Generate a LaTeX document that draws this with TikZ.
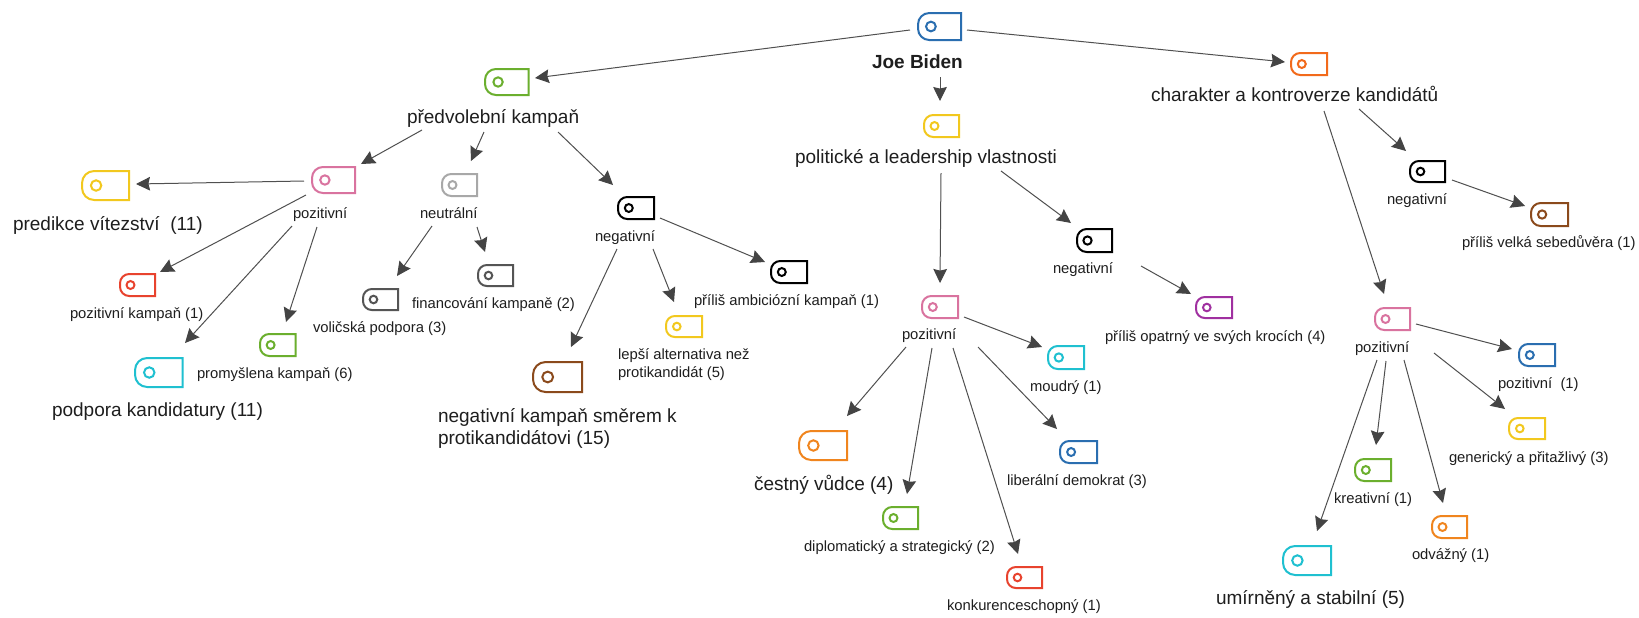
\documentclass[tikz,border=0pt]{standalone}
\usepackage{fontspec}
\setmainfont{Liberation Sans}
\usetikzlibrary{arrows.meta}
\definecolor{cblue}{HTML}{2A6EB0}
\definecolor{cgreen}{HTML}{6BAF2E}
\definecolor{cyellow}{HTML}{F2C81E}
\definecolor{cflame}{HTML}{F26A1B}
\definecolor{cbrown}{HTML}{8B4A1C}
\definecolor{cpurple}{HTML}{A030A0}
\definecolor{cpink}{HTML}{D9739F}
\definecolor{ccyan}{HTML}{1FC0D0}
\definecolor{corange}{HTML}{F0851E}
\definecolor{cred}{HTML}{E8432E}
\definecolor{cgray}{HTML}{A8A8A8}
\definecolor{cdark}{HTML}{555555}
\definecolor{cink}{HTML}{1E1E1E}
\definecolor{cline}{HTML}{505050}
\definecolor{chead}{HTML}{444444}
\tikzset{
  bigtext/.style={inner sep=0pt,outer sep=0pt,anchor=base west,text=cink,font=\fontsize{9.5}{11}\selectfont},
  smalltext/.style={inner sep=0pt,outer sep=0pt,anchor=base west,text=cink,font=\fontsize{7.4}{9}\selectfont},
  tagbox/.style={inner sep=0pt,outer sep=0pt,anchor=north west},
  tagline/.style={line width=1pt,line join=miter},
  conn/.style={draw=cline,line width=0.5pt,-{Stealth[length=7pt,width=6.8pt,inset=0.8pt,color=chead,fill=chead]}}
}
% name, x1, y1, x2, y2, colour
\newcommand{\tagnode}[6]{%
  \pgfmathsetmacro{\tw}{(#4-#2)*0.5}%
  \pgfmathsetmacro{\th}{(#5-#3)*0.5}%
  \pgfmathsetmacro{\rr}{(#5-#3)*0.18}%
  \pgfmathsetmacro{\cxx}{#2+0.3*(#4-#2)}%
  \pgfmathsetmacro{\cyy}{(#3+#5)/2}%
  \pgfmathsetmacro{\cn}{(#5-#3)*0.42*0.5}%
  \node[tagbox,minimum width=\tw pt,minimum height=\th pt] (#1) at (#2,#3) {};
  \draw[tagline,draw=#6] (#4,#3) [rounded corners=\cn pt] -- (#2,#3) -- (#2,#5) [sharp corners] -- (#4,#5) -- cycle;
  \draw[tagline,draw=#6] (\cxx,\cyy) circle [radius=\rr];
}
\begin{document}
\begin{tikzpicture}[x=0.5pt,y=-0.5pt]
\useasboundingbox (0,0) rectangle (1639,617);
\fill[white] (0,0) rectangle (1639,617);
% tags
\tagnode{tRoot}{918}{13}{961}{40}{cblue}
\tagnode{tKamp}{485}{69}{528.5}{95}{cgreen}
\tagnode{tPol}{924}{115}{959}{137}{cyellow}
\tagnode{tChar}{1291}{53}{1327}{75}{cflame}
\tagnode{tKP}{312}{167}{355}{193}{cpink}
\tagnode{tKN}{442}{174}{477}{196}{cgray}
\tagnode{tKM}{618}{197}{654}{219}{black}
\tagnode{tPred}{82}{171}{129}{200}{cyellow}
\tagnode{tPozK}{120}{274}{155}{296}{cred}
\tagnode{tPodp}{135}{358}{182.5}{387}{ccyan}
\tagnode{tProm}{260}{334}{295.5}{356}{cgreen}
\tagnode{tVol}{363}{289}{398}{310}{cdark}
\tagnode{tFin}{478}{265}{513}{286}{cdark}
\tagnode{tAmb}{771}{261}{807}{283}{black}
\tagnode{tLep}{666}{316}{702}{337}{cyellow}
\tagnode{tNegK}{533}{362}{582}{392}{cbrown}
\tagnode{tPM}{1077}{229}{1112}{252}{black}
\tagnode{tOpat}{1196}{297}{1232}{318}{cpurple}
\tagnode{tPP}{922}{296}{958}{318}{cpink}
\tagnode{tMoud}{1048}{346}{1084}{369}{ccyan}
\tagnode{tLib}{1060}{441}{1097}{463}{cblue}
\tagnode{tCest}{799}{431}{847}{460}{corange}
\tagnode{tDipl}{883}{507}{918}{529}{cgreen}
\tagnode{tKonk}{1007}{567}{1042}{588}{cred}
\tagnode{tCM}{1410}{161}{1445}{182}{black}
\tagnode{tVelk}{1531}{203}{1568}{226}{cbrown}
\tagnode{tCP}{1375}{308}{1410}{330}{cpink}
\tagnode{tPoz1}{1519}{344}{1555}{366}{cblue}
\tagnode{tGen}{1509}{418}{1545}{439}{cyellow}
\tagnode{tKrea}{1355}{459}{1391}{481}{cgreen}
\tagnode{tOdv}{1432}{516}{1467}{538}{corange}
\tagnode{tUmir}{1283}{546}{1331}{575}{ccyan}
% labels
\node[bigtext,font=\fontsize{9.5}{11}\selectfont\bfseries] (lRoot) at (872,68) {Joe Biden};
\node[bigtext] (lKamp) at (407,123) {předvolební kampaň};
\node[bigtext] (lPol) at (795,163) {politické a leadership vlastnosti};
\node[bigtext] (lChar) at (1151,101) {charakter a kontroverze kandidátů};
\node[smalltext] (lKP) at (293,218) {pozitivní};
\node[smalltext] (lKN) at (420,218) {neutrální};
\node[smalltext] (lKM) at (595,241) {negativní};
\node[bigtext] (lPred) at (13,230) {predikce vítezství~ (11)};
\node[smalltext] (lPozK) at (70,318) {pozitivní kampaň (1)};
\node[bigtext] (lPodp) at (52,416) {podpora kandidatury (11)};
\node[smalltext] (lProm) at (197,378) {promyšlena kampaň (6)};
\node[smalltext] (lVol) at (313,332) {voličská podpora (3)};
\node[smalltext] (lFin) at (412,308) {financování kampaně (2)};
\node[smalltext] (lAmb) at (694,305) {příliš ambiciózní kampaň (1)};
\node[smalltext,align=left] (lLep) at (618,377) {lepší alternativa než\\protikandidát (5)};
\node[bigtext,align=left] (lNegK) at (438,444) {negativní kampaň směrem k\\protikandidátovi (15)};
\node[smalltext] (lPM) at (1053,273) {negativní};
\node[smalltext] (lOpat) at (1105,341) {příliš opatrný ve svých krocích (4)};
\node[smalltext] (lPP) at (902,339) {pozitivní};
\node[smalltext] (lMoud) at (1030,391) {moudrý (1)};
\node[smalltext] (lLib) at (1007,485) {liberální demokrat (3)};
\node[bigtext] (lCest) at (754,490) {čestný vůdce (4)};
\node[smalltext] (lDipl) at (804,551) {diplomatický a strategický (2)};
\node[smalltext] (lKonk) at (947,610) {konkurenceschopný (1)};
\node[smalltext] (lCM) at (1387,204) {negativní};
\node[smalltext] (lVelk) at (1462,247) {příliš velká sebedůvěra (1)};
\node[smalltext] (lCP) at (1355,352) {pozitivní};
\node[smalltext] (lPoz1) at (1498,388) {pozitivní~ (1)};
\node[smalltext] (lGen) at (1449,462) {generický a přitažlivý (3)};
\node[smalltext] (lKrea) at (1334,503) {kreativní (1)};
\node[smalltext] (lOdv) at (1412,559) {odvážný (1)};
\node[bigtext] (lUmir) at (1216,604) {umírněný a stabilní (5)};
% connectors
\draw[conn] ([shift={(-8,17)}]tRoot.north west) -- ([shift={(50,9)}]tKamp.north west);
\draw[conn] ([shift={(68,9)}]lRoot.base west) -- ([shift={(16,-14)}]tPol.north west);
\draw[conn] ([shift={(49,17)}]tRoot.north west) -- ([shift={(-6,9)}]tChar.north west);
\draw[conn] ([shift={(15,7)}]lKamp.base west) -- ([shift={(49,-3)}]tKP.north west);
\draw[conn] ([shift={(77,9)}]lKamp.base west) -- ([shift={(29,-13)}]tKN.north west);
\draw[conn] ([shift={(151,9)}]lKamp.base west) -- ([shift={(-5,-12)}]tKM.north west);
\draw[conn] ([shift={(-8,14)}]tKP.north west) -- ([shift={(54,13)}]tPred.north west);
\draw[conn] ([shift={(-6,28)}]tKP.north west) -- ([shift={(40,-2)}]tPozK.north west);
\draw[conn] ([shift={(-1,8)}]lKP.base west) -- ([shift={(50,-15)}]tPodp.north west);
\draw[conn] ([shift={(24,9)}]lKP.base west) -- ([shift={(26,-12)}]tProm.north west);
\draw[conn] ([shift={(12,8)}]lKN.base west) -- ([shift={(34,-13)}]tVol.north west);
\draw[conn] ([shift={(57,9)}]lKN.base west) -- ([shift={(7,-13)}]tFin.north west);
\draw[conn] ([shift={(42,21)}]tKM.north west) -- ([shift={(-6,1)}]tAmb.north west);
\draw[conn] ([shift={(22,8)}]lKM.base west) -- ([shift={(38,-15)}]tNegK.north west);
\draw[conn] ([shift={(58,8)}]lKM.base west) -- ([shift={(8,-14)}]tLep.north west);
\draw[conn] ([shift={(146,10)}]lPol.base west) -- ([shift={(18,-13)}]tPP.north west);
\draw[conn] ([shift={(206,8)}]lPol.base west) -- ([shift={(-6,-6)}]tPM.north west);
\draw[conn] ([shift={(88,-7)}]lPM.base west) -- ([shift={(-5,-3)}]tOpat.north west);
\draw[conn] ([shift={(42,21)}]tPP.north west) -- ([shift={(-6,1)}]tMoud.north west);
\draw[conn] ([shift={(76,8)}]lPP.base west) -- ([shift={(-3,-12)}]tLib.north west);
\draw[conn] ([shift={(4,8)}]lPP.base west) -- ([shift={(48,-15)}]tCest.north west);
\draw[conn] ([shift={(30,9)}]lPP.base west) -- ([shift={(24,-13)}]tDipl.north west);
\draw[conn] ([shift={(51,9)}]lPP.base west) -- ([shift={(11,-13)}]tKonk.north west);
\draw[conn] ([shift={(208,8)}]lChar.base west) -- ([shift={(-4,-10)}]tCM.north west);
\draw[conn] ([shift={(173,10)}]lChar.base west) -- ([shift={(9,-14)}]tCP.north west);
\draw[conn] ([shift={(42,19)}]tCM.north west) -- ([shift={(-6,3)}]tVelk.north west);
\draw[conn] ([shift={(41,16)}]tCP.north west) -- ([shift={(-7,5)}]tPoz1.north west);
\draw[conn] ([shift={(79,1)}]lCP.base west) -- ([shift={(-4,-9)}]tGen.north west);
\draw[conn] ([shift={(31,9)}]lCP.base west) -- ([shift={(21,-14)}]tKrea.north west);
\draw[conn] ([shift={(49,8)}]lCP.base west) -- ([shift={(11,-13)}]tOdv.north west);
\draw[conn] ([shift={(22,8)}]lCP.base west) -- ([shift={(34,-15)}]tUmir.north west);
\end{tikzpicture}
\end{document}
